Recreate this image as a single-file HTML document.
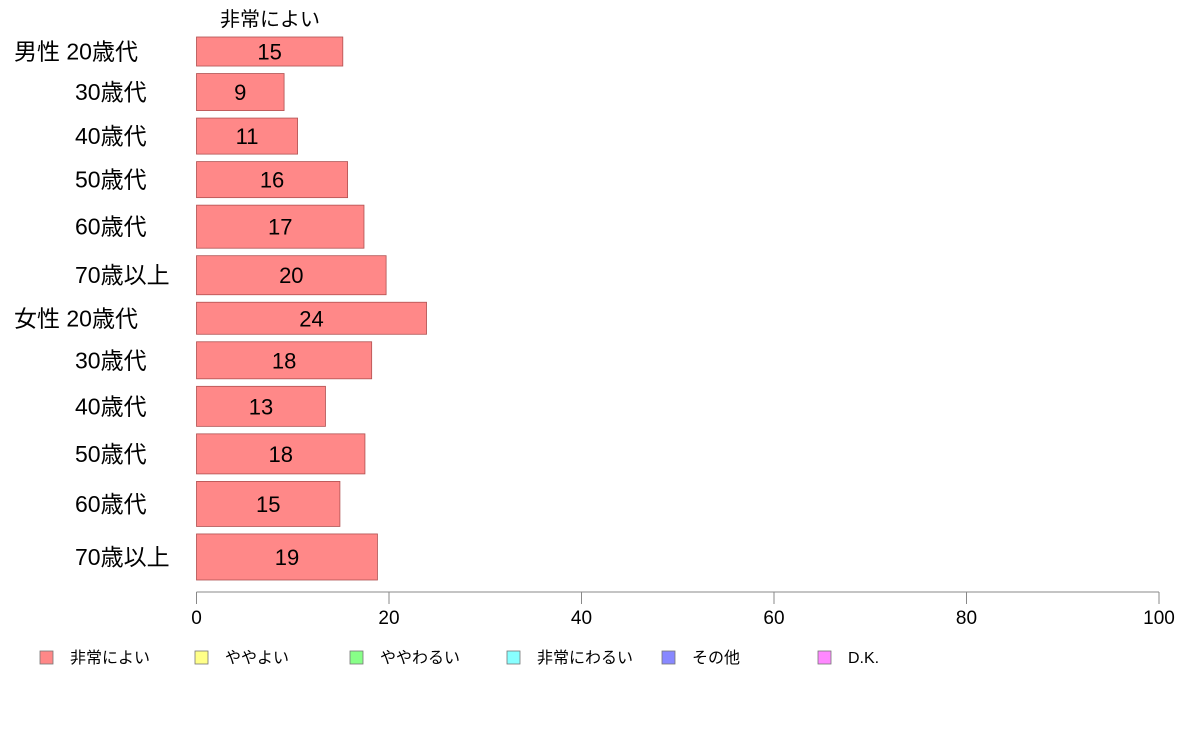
<!DOCTYPE html>
<html><head><meta charset="utf-8"><style>
body{margin:0;background:#fff;}
svg{display:block;font-family:"Liberation Sans","Noto Sans CJK JP",sans-serif;}
</style></head><body>
<svg id="c" width="1188" height="736"></svg>
<script>
const categories=["男性 20歳代","30歳代","40歳代","50歳代","60歳代","70歳以上","女性 20歳代","30歳代","40歳代","50歳代","60歳代","70歳以上"];
const values=[15.2,9.1,10.5,15.7,17.4,19.7,23.9,18.2,13.4,17.5,14.9,18.8];
const sampleSizes=[29,37,36,36,43,39,32,37,40,40,45,46];
const xTicks=[0,20,40,60,80,100];
const legendLabels=["非常によい","ややよい","ややわるい","非常にわるい","その他","D.K."];
const legendColors=["#ff8888","#ffff88","#88ff88","#88ffff","#8888ff","#ff88ff"];

const NS="http://www.w3.org/2000/svg";
const svg=document.getElementById('c');
function mk(t,a,p){const e=document.createElementNS(NS,t);for(const k in a)e.setAttribute(k,a[k]);(p||svg).appendChild(e);return e;}
const x0=196.5,x1=1159,yTop=37,yBot=580,gap=7.5;
const xs=v=>x0+(v/100)*(x1-x0);
const totalN=sampleSizes.reduce((a,b)=>a+b,0);
const hScale=(yBot-yTop-gap*(categories.length-1))/totalN;

let t=mk('text',{x:270,y:26,'font-size':20,'text-anchor':'middle',fill:'#000'});


t.textContent=legendLabels[0];

let y=yTop;
categories.forEach((c,i)=>{
  const h=sampleSizes[i]*hScale;
  const r=mk('rect',{x:x0,y:y,width:xs(values[i])-x0,height:h,fill:'#ff8888',stroke:'#b05050','stroke-width':0.8});
  
  
  const v=mk('text',{x:(x0+xs(values[i]))/2,y:y+h/2+8,'font-size':22,'text-anchor':'middle',fill:'#000'});
  
  
  v.textContent=Math.round(values[i]);
  const isGroup=c.indexOf(' ')>0;
  const l=mk('text',{x:isGroup?14:75,y:y+h/2+8,'font-size':23,fill:'#000'});
  
  
  l.textContent=c;
  y+=h+gap;
});

const ax=mk('line',{x1:x0,x2:x1,y1:592,y2:592,stroke:'#888','stroke-width':1});


xTicks.forEach(v=>{
  const tk=mk('line',{x1:xs(v),x2:xs(v),y1:592,y2:604,stroke:'#888','stroke-width':1});
  
  
  const tl=mk('text',{x:xs(v),y:624,'font-size':19,'text-anchor':'middle',fill:'#000'});
  
  
  tl.textContent=v;
});

const lx=[40,195,350,507,662,818];
legendLabels.forEach((s,i)=>{
  const sq=mk('rect',{x:lx[i],y:651,width:13,height:13,fill:legendColors[i],stroke:'#777','stroke-width':0.8});
  
  
  const tx=mk('text',{x:lx[i]+30,y:663,'font-size':16,fill:'#000'});
  
  
  tx.textContent=s;
});
</script>
</body></html>
